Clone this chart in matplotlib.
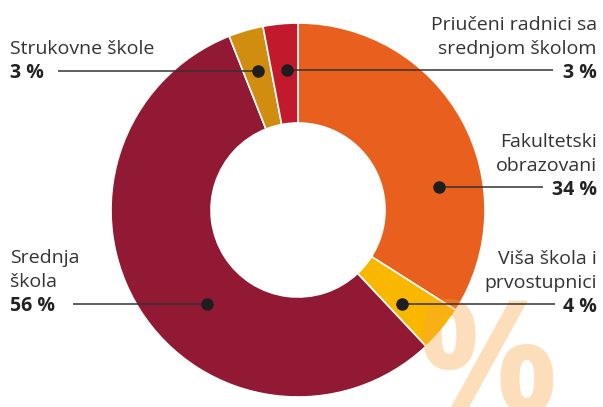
import numpy as np
import matplotlib.pyplot as plt

plt.rcParams['font.family'] = ['Open Sans', 'DejaVu Sans']

# data: shares in %, clockwise from 12 o'clock
categories = ['Fakultetski obrazovani', 'Viša škola i prvostupnici', 'Srednja škola',
              'Strukovne škole', 'Priučeni radnici sa srednjom školom']
values = [34, 4, 56, 3, 3]
colors = ['#E9601E', '#F9B700', '#921933', '#D18D10', '#C21A2C']

# label text lines (name lines, then the value)
label_lines = [['Fakultetski', 'obrazovani'],
               ['Viša škola i', 'prvostupnici'],
               ['Srednja', 'škola'],
               ['Strukovne škole'],
               ['Priučeni radnici sa', 'srednjom školom']]

W, H = 603, 407
fig = plt.figure(figsize=(W / 100, H / 100), dpi=100)
ax = fig.add_axes([0, 0, 1, 1])

cx, cy, R = 298, H - 210, 187
ax.pie(values, colors=colors, startangle=90, counterclock=False,
       center=(cx, cy), radius=R, frame=True,
       wedgeprops=dict(width=100, edgecolor='white', linewidth=1.2))
ax.set_xlim(0, W)
ax.set_ylim(0, H)
ax.set_aspect('equal')
ax.axis('off')

# layout: dot position, line end x, text x, alignment, baselines (pixel coords from top)
layout = [
    dict(dot=(439, 187), end=543, tx=597, ha='right', base=[147, 171, 195]),
    dict(dot=(402, 304), end=555, tx=597, ha='right', base=[263.5, 287.5, 311.5]),
    dict(dot=(207, 304), end=73, tx=10, ha='left', base=[263, 287, 311]),
    dict(dot=(258, 71), end=58, tx=10, ha='left', base=[54.5, 78.5]),
    dict(dot=(287, 70), end=553, tx=597, ha='right', base=[30, 54.5, 78.5]),
]

# watermark
ax.text(417, H - 413, '%', fontsize=112, fontweight='bold', color='#F9A33A',
        alpha=0.35, ha='left', va='baseline', zorder=4, clip_on=True)

for lines, val, lay in zip(label_lines, values, layout):
    dx, dy = lay['dot']
    ax.plot([dx, lay['end']], [H - dy, H - dy], color='#333333', lw=1.1,
            solid_capstyle='butt', zorder=5)
    ax.plot(dx, H - dy, 'o', ms=8, color='#1e1e1e', zorder=6)
    for txt, b in zip(lines, lay['base']):
        ax.text(lay['tx'], H - b, txt, fontsize=14, color='#333333',
                ha=lay['ha'], va='baseline')
    ax.text(lay['tx'], H - lay['base'][-1], f'{val} %', fontsize=14,
            fontweight='bold', color='#222222', ha=lay['ha'], va='baseline')

fig.savefig('out.png', dpi=100)
